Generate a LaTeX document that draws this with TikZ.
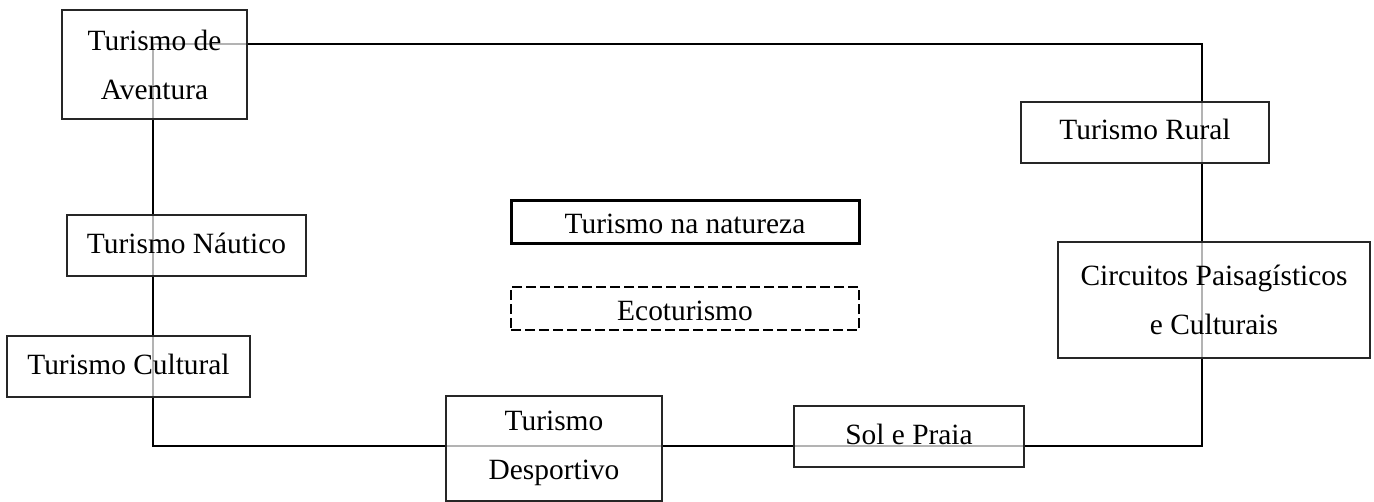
\documentclass[tikz,border=0pt]{standalone}
\usepackage{fontspec}
\setmainfont{Liberation Serif}
\usetikzlibrary{calc}

\begin{document}
\begin{tikzpicture}[x=.5pt, y=-.5pt,
  tipo/.style={draw=black!85, line width=.6pt, fill=white, fill opacity=.7, text opacity=1,
    inner sep=0, align=center, font=\fontsize{14.7}{24.5}\selectfont},
  linha/.style={text height=.95em, text depth=.2em}]
\useasboundingbox (0,0) rectangle (1374,502);
% circuito
\coordinate (c1) at (153,44);
\coordinate (c2) at (1202,44);
\coordinate (c3) at (1202,446);
\coordinate (c4) at (153,446);
\draw[black, line width=1pt] (c1) -- (c2) -- (c3) -- (c4) -- cycle;
% caixas de uma linha
\foreach \nome/\x/\y/\w/\txt in {nautico/186.5/245.5/119.5/Turismo Náutico,
  cultural/128.5/366.5/121.5/Turismo Cultural, rural/1145/132.5/124/Turismo Rural,
  sol/909/436.5/115/Sol e Praia} {
 \node[tipo, linha, minimum width=\w pt, minimum height=30.5pt] (\nome) at (\x,\y) {\txt};
}
% caixas de duas linhas
\node[tipo, minimum width=92.5pt, minimum height=54.5pt] (aventura) at (154.5,64.5) {Turismo de\\Aventura};
\node[tipo, minimum width=156pt, minimum height=58pt] (circuitos) at (1214,300) {Circuitos Paisagísticos\\e Culturais};
\node[tipo, minimum width=108pt, minimum height=52.5pt] (desportivo) at (554,448.5) {Turismo\\Desportivo};
% legenda
\node[tipo, line width=1.5pt, draw=black, text height=1.3em, text depth=.15em,
  minimum width=174pt, minimum height=21pt] (natureza) at (685,222) {Turismo na natureza};
\node[tipo, line width=1pt, draw=black, dash pattern=on 5pt off 2pt, text height=1.3em, text depth=.15em,
  minimum width=174pt, minimum height=21.5pt] (eco) at (685,308.5) {Ecoturismo};
\end{tikzpicture}
\end{document}
